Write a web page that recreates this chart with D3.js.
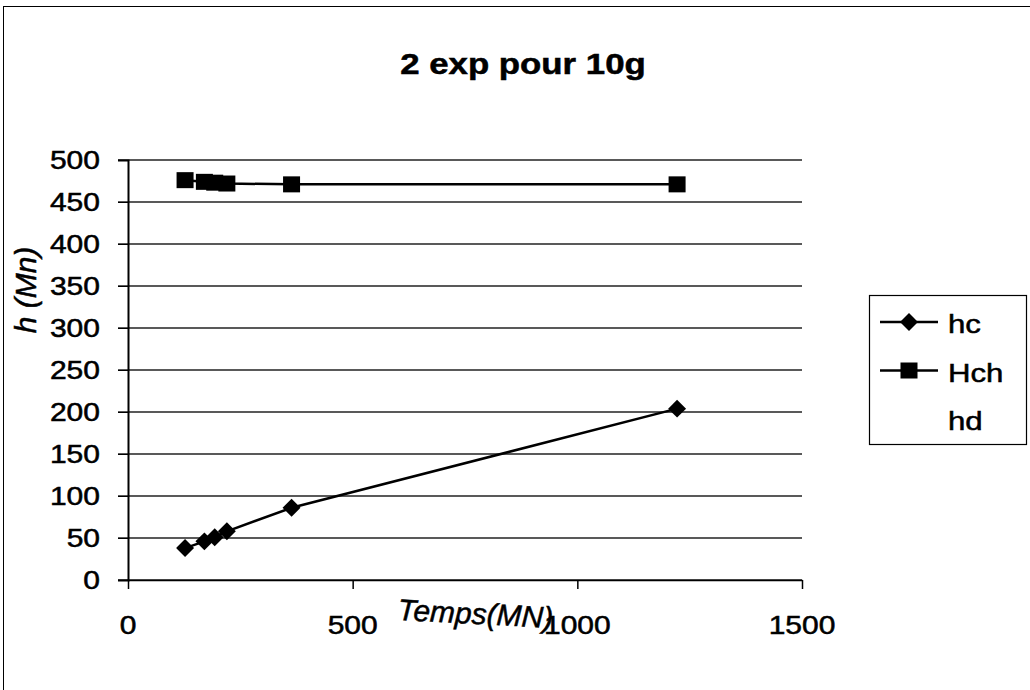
<!DOCTYPE html>
<html>
<head>
<meta charset="utf-8">
<script src="https://cdn.jsdelivr.net/npm/d3@7"></script>
<style>
    body { margin: 0; background: #fff; }
    text { font-family: Arial, "Liberation Sans", sans-serif; fill: #000; }
    .lbl { stroke: #000; stroke-width: 0.5; }
</style>
</head>
<body>
<div id="chart"></div>
<script>
// Data
let temps = [127, 170, 193, 220, 364, 1222];
let hc = [38, 46, 51, 58, 86, 204];
let hch = [476, 474, 473, 472, 471, 471];
let seriesNames = ['hc', 'Hch', 'hd'];
let yTicks = [0, 50, 100, 150, 200, 250, 300, 350, 400, 450, 500];
let xTicks = [0, 500, 1000, 1500];

let svgWidth = 1030;
let svgHeight = 690;

let plot = { left: 128, right: 802, top: 160, bottom: 580 };

// text in the scan is stretched sideways
let stretch = 1.2;

let svg = d3.select('#chart')
    .append('svg')
    .attr('width', svgWidth)
    .attr('height', svgHeight);

// Outer chart frame
svg.append('rect')
    .attr('x', 3.5)
    .attr('y', 6.5)
    .attr('width', 1040)
    .attr('height', 700)
    .attr('fill', 'none')
    .attr('stroke', '#000')
    .attr('stroke-width', 1);

let xScale = d3.scaleLinear()
    .domain([0, 1500])
    .range([plot.left, plot.right]);

let yScale = d3.scaleLinear()
    .domain([0, 500])
    .range([plot.bottom, plot.top]);

// Title
svg.append('g')
    .attr('transform', `translate(523, 74) scale(${stretch}, 1)`)
    .append('text')
    .attr('class', 'lbl')
    .attr('text-anchor', 'middle')
    .attr('font-size', 29)
    .attr('font-weight', 'bold')
    .text('2 exp pour 10g');

// Horizontal gridlines
svg.append('g')
    .selectAll('line')
    .data(yTicks)
    .enter()
    .append('line')
    .attr('x1', plot.left - 10)
    .attr('x2', plot.right)
    .attr('y1', d => yScale(d))
    .attr('y2', d => yScale(d))
    .attr('stroke', '#222')
    .attr('stroke-width', 1.5);

// Y axis
let yAxis = svg.append('g')
    .attr('transform', `translate(${plot.left}, 0)`)
    .call(d3.axisLeft(yScale).tickValues(yTicks).tickSize(10).tickFormat(''));
yAxis.select('.domain').attr('stroke-width', 2);

svg.append('g')
    .selectAll('g')
    .data(yTicks)
    .enter()
    .append('g')
    .attr('transform', d => `translate(100, ${yScale(d) + 9}) scale(${stretch}, 1)`)
    .append('text')
    .attr('class', 'lbl')
    .attr('text-anchor', 'end')
    .attr('font-size', 25)
    .text(d => d);

// X axis
let xAxis = svg.append('g')
    .attr('transform', `translate(0, ${plot.bottom})`)
    .call(d3.axisBottom(xScale).tickValues(xTicks).tickSize(9).tickSizeOuter(0).tickFormat(''));
xAxis.select('.domain').attr('stroke-width', 1.5);
xAxis.selectAll('.tick line').attr('stroke-width', 1.5);

svg.append('g')
    .selectAll('g')
    .data(xTicks)
    .enter()
    .append('g')
    .attr('transform', d => `translate(${xScale(d)}, 634) scale(${stretch}, 1)`)
    .append('text')
    .attr('class', 'lbl')
    .attr('text-anchor', 'middle')
    .attr('font-size', 25)
    .text(d => d);

// Axis titles (handwritten on the original)
svg.append('g')
    .attr('transform', 'translate(36, 290) rotate(-90)')
    .append('text')
    .attr('class', 'lbl')
    .attr('text-anchor', 'middle')
    .attr('font-size', 30)
    .attr('font-style', 'italic')
    .text('h (Mn)');

svg.append('g')
    .attr('transform', 'translate(475, 624) rotate(3)')
    .append('text')
    .attr('class', 'lbl')
    .attr('text-anchor', 'middle')
    .attr('font-size', 30)
    .attr('font-style', 'italic')
    .text('Temps(MN)');

// Lines
let lineGen = d3.line()
    .x(d => xScale(d[0]))
    .y(d => yScale(d[1]));

let hcPoints = temps.map((t, i) => [t, hc[i]]);
let hchPoints = temps.map((t, i) => [t, hch[i]]);

svg.append('path')
    .datum(hcPoints)
    .attr('d', lineGen)
    .attr('fill', 'none')
    .attr('stroke', '#000')
    .attr('stroke-width', 2.5);

svg.append('path')
    .datum(hchPoints)
    .attr('d', lineGen)
    .attr('fill', 'none')
    .attr('stroke', '#000')
    .attr('stroke-width', 2.5);

// Markers
let diamond = d3.symbol().type(d3.symbolDiamond2).size(205);

svg.append('g')
    .selectAll('path')
    .data(hcPoints)
    .enter()
    .append('path')
    .attr('d', diamond)
    .attr('transform', d => `translate(${xScale(d[0])}, ${yScale(d[1])})`)
    .attr('fill', '#000');

svg.append('g')
    .selectAll('rect')
    .data(hchPoints)
    .enter()
    .append('rect')
    .attr('x', d => xScale(d[0]) - 8.5)
    .attr('y', d => yScale(d[1]) - 8)
    .attr('width', 17)
    .attr('height', 16)
    .attr('fill', '#000');

// Legend
let legend = svg.append('g');

legend.append('rect')
    .attr('x', 869.5)
    .attr('y', 295.5)
    .attr('width', 157)
    .attr('height', 149)
    .attr('fill', '#fff')
    .attr('stroke', '#000')
    .attr('stroke-width', 1.2);

let legendItems = legend.selectAll('g.item')
    .data(seriesNames)
    .enter()
    .append('g')
    .attr('class', 'item')
    .attr('transform', (d, i) => `translate(0, ${322 + i * 48.5})`);

legendItems.filter(d => d !== 'hd')
    .append('line')
    .attr('x1', 880)
    .attr('x2', 938)
    .attr('stroke', '#000')
    .attr('stroke-width', 2.5);

legendItems.filter(d => d === 'hc')
    .append('path')
    .attr('d', diamond)
    .attr('transform', 'translate(909, 0)')
    .attr('fill', '#000');

legendItems.filter(d => d === 'Hch')
    .append('rect')
    .attr('x', 900.5)
    .attr('y', -8)
    .attr('width', 17)
    .attr('height', 16)
    .attr('fill', '#000');

legendItems.append('g')
    .attr('transform', `translate(948, 11) scale(${stretch}, 1)`)
    .append('text')
    .attr('class', 'lbl')
    .attr('font-size', 26)
    .text(d => d);
</script>
</body>
</html>
